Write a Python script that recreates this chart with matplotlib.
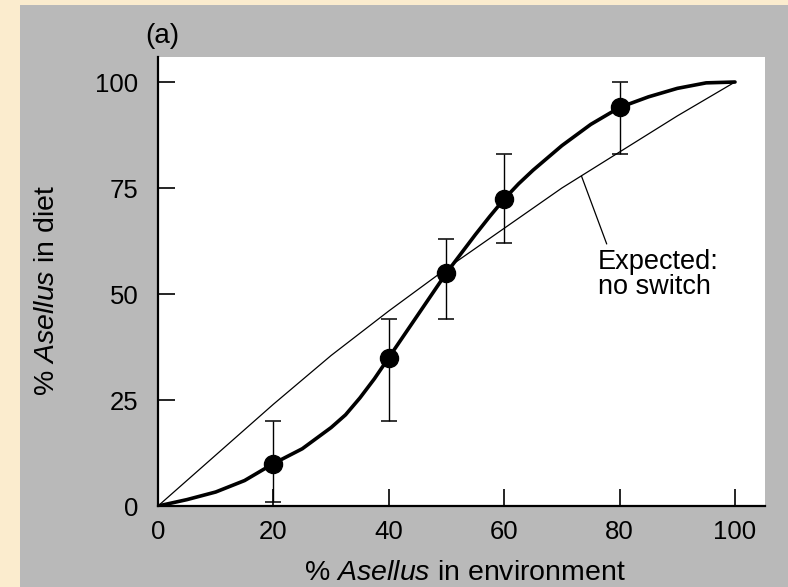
import matplotlib
matplotlib.use("Agg")
import matplotlib.pyplot as plt
from matplotlib.patches import Rectangle

plt.rcParams['font.family'] = ['Liberation Sans', 'DejaVu Sans']
plt.rcParams['mathtext.fontset'] = 'custom'
plt.rcParams['mathtext.rm'] = 'Liberation Sans'
plt.rcParams['mathtext.it'] = 'Liberation Sans:italic'

# measured points with error bars
env_pct = [20, 40, 50, 60, 80]
diet_pct = [10, 35, 55, 72.5, 94]
err_low = [1, 20, 44, 62, 83]
err_high = [20, 44, 63, 83, 100]

# fitted curve
curve_x = [0, 5, 10, 15, 20, 25, 30, 32.5, 35, 37.5, 40, 45, 50, 55, 57.5, 60, 62.5, 65,
           70, 75, 80, 85, 90, 95, 100]
curve_y = [0, 1.5, 3.3, 6, 10, 13.5, 18.5, 21.5, 25.5, 30, 35, 45, 55, 64, 68.3, 72.4, 76, 79.2,
           85, 90, 94, 96.5, 98.5, 99.8, 100]

# expected line: no switch
exp_x = [0, 10, 20, 30, 40, 50, 60, 70, 80, 90, 100]
exp_y = [0, 12, 24, 35.5, 46, 56, 65.5, 75, 83.5, 92, 100]

x_ticks = [0, 20, 40, 60, 80, 100]
y_ticks = [0, 25, 50, 75, 100]

fig = plt.figure(figsize=(7.88, 5.87), dpi=100, facecolor='#fbecce')
fig.add_artist(Rectangle((20/788, 0), 1 - 20/788, 582/587, transform=fig.transFigure,
                         facecolor='#b9b9b9', edgecolor='none', zorder=-5))

ax = fig.add_axes([158/788, 81/587, 607/788, 449/587])
ax.set_facecolor('white')

ax.plot(exp_x, exp_y, color='black', lw=0.9)
ax.plot(curve_x, curve_y, color='black', lw=2.6, solid_capstyle='round', solid_joinstyle='round')
yerr = [[d - lo for d, lo in zip(diet_pct, err_low)], [hi - d for d, hi in zip(diet_pct, err_high)]]
ax.errorbar(env_pct, diet_pct, yerr=yerr, fmt='o', ms=13, color='black', ecolor='black',
            elinewidth=1, capsize=5.5, capthick=1.1, zorder=3)

ax.annotate('Expected:\nno switch', xy=(73.4, 77.8), xytext=(76.3, 60.6),
            textcoords='data', ha='left', va='top', fontsize=19.5, linespacing=0.95,
            arrowprops=dict(arrowstyle='-', color='black', lw=0.9,
                            shrinkA=0, shrinkB=0, relpos=(0.07, 1.1)))

ax.set_xlim(0, 105.2)
ax.set_ylim(0, 105.9)
ax.set_xticks(x_ticks)
ax.set_yticks(y_ticks)
ax.tick_params(direction='in', length=12, width=1.2, labelsize=18.5)
ax.tick_params(axis='y', pad=14)
ax.tick_params(axis='x', pad=10)
for s in ['top', 'right']:
    ax.spines[s].set_visible(False)
for s in ['left', 'bottom']:
    ax.spines[s].set_linewidth(1.6)

ax.set_xlabel(r'% $\mathit{Asellus}$ in environment', fontsize=20.5)
ax.set_ylabel(r'% $\mathit{Asellus}$ in diet', fontsize=20.5)
ax.xaxis.set_label_coords(0.506, -0.12)
ax.yaxis.set_label_coords(-0.162, 0.48)

fig.text(162/788, 1 - 36/587, '(a)', fontsize=20, ha='center', va='center')

fig.savefig('out.png', dpi=100, facecolor=fig.get_facecolor())
